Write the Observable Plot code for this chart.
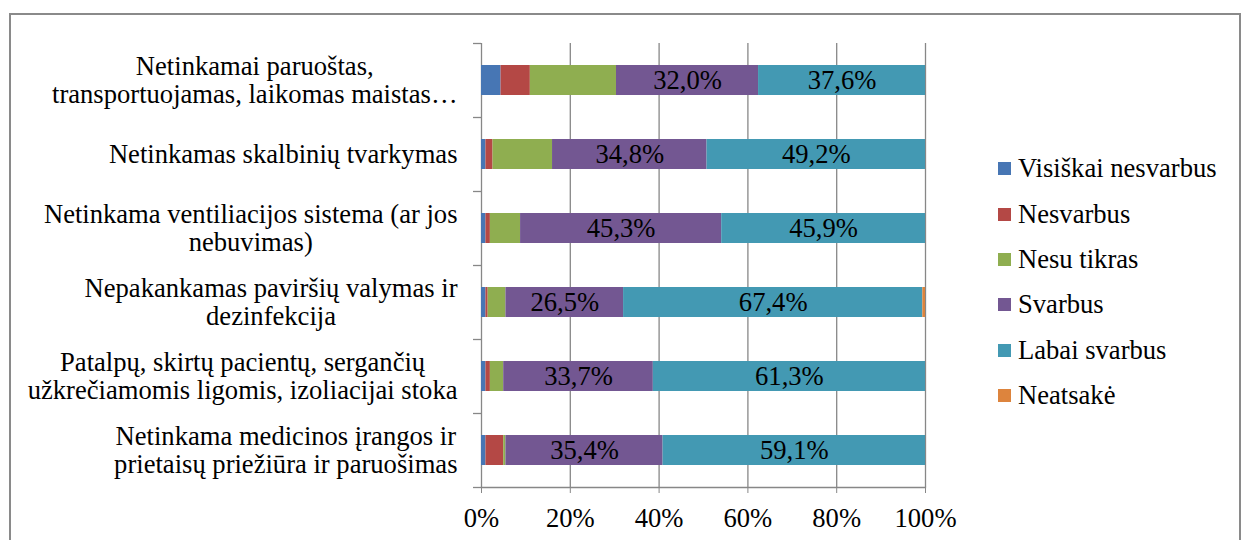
<!DOCTYPE html>
<html>
<head>
<meta charset="utf-8">
<script src="https://cdn.jsdelivr.net/npm/d3@7"></script>
<script src="https://cdn.jsdelivr.net/npm/@observablehq/plot@0.6"></script>
<style>
  html, body { margin: 0; padding: 0; background: #fff; overflow: hidden; }
  body { width: 1251px; height: 540px; position: relative; font-family: "Liberation Serif", "Times New Roman", serif; }
  #frame { position: absolute; left: 9px; top: 13px; width: 1232px; height: 600px; border: 2px solid #8a8a8a; box-sizing: border-box; }
  #chart { position: absolute; left: 0; top: 0; }
  #legend { position: absolute; left: 998px; top: 146px; font-size: 26.6px; color: #000; }
  #legend .item { display: flex; align-items: center; height: 45.4px; white-space: nowrap; }
  #legend .sw { width: 13px; height: 13px; margin-right: 7px; flex: none; }
</style>
</head>
<body>
<div id="frame"></div>
<div id="chart"></div>
<div id="legend"></div>
<script>
const categories = [
  "Netinkamai paruoštas,\ntransportuojamas, laikomas maistas…",
  "Netinkamas skalbinių tvarkymas",
  "Netinkama ventiliacijos sistema (ar jos\nnebuvimas)",
  "Nepakankamas paviršių valymas ir\ndezinfekcija",
  "Patalpų, skirtų pacientų, sergančių\nužkrečiamomis ligomis, izoliacijai stoka",
  "Netinkama medicinos įrangos ir\nprietaisų priežiūra ir paruošimas"
];
const series = ["Visiškai nesvarbus", "Nesvarbus", "Nesu tikras", "Svarbus", "Labai svarbus", "Neatsakė"];
const colors = ["#4776B4", "#B44845", "#8FAE50", "#735792", "#4399B3", "#DD843D"];
const visiskaiNesvarbus = [4.4, 1.0, 1.0, 1.0, 1.0, 1.0];
const nesvarbus       = [6.6, 1.6, 1.0, 0.5, 1.0, 4.0];
const nesuTikras      = [19.4, 13.4, 6.8, 4.0, 3.0, 0.5];
const svarbus         = [32.0, 34.8, 45.3, 26.5, 33.7, 35.4];
const labaiSvarbus    = [37.6, 49.2, 45.9, 67.4, 61.3, 59.1];
const neatsake        = [0, 0, 0, 0.6, 0, 0];
const labelledSeries = ["Svarbus", "Labai svarbus"];
const xTicks = [0, 20, 40, 60, 80, 100];

const seriesValues = [visiskaiNesvarbus, nesvarbus, nesuTikras, svarbus, labaiSvarbus, neatsake];
const data = [];
categories.forEach((c, i) => {
  series.forEach((s, j) => {
    data.push({category: c, series: s, value: seriesValues[j][i]});
  });
});

const fmt = v => v.toFixed(1).replace(".", ",") + "%";
const grid = "#878787";
const fs = 26.6;

const plot = Plot.plot({
  width: 1251,
  height: 540,
  marginLeft: 481,
  marginRight: 326,
  marginTop: 43,
  marginBottom: 53,
  style: {fontFamily: "'Liberation Serif', 'Times New Roman', serif", fontSize: fs + "px", color: "#000", background: "transparent"},
  x: {domain: [0, 100], label: null},
  y: {domain: categories, paddingInner: 0.595, paddingOuter: 0.2975, label: null},
  color: {domain: series, range: colors},
  marks: [
    Plot.ruleX(xTicks, {stroke: grid, strokeWidth: 1.3}),
    Plot.frame({anchor: "bottom", stroke: grid, strokeWidth: 1.3}),
    Plot.ruleY(categories, {y: d => d, x1: -1.8, x2: 0, dy: -37, stroke: grid, strokeWidth: 1.3}),
    Plot.ruleY(categories.slice(-1), {y: d => d, x1: -1.8, x2: 0, dy: 37, stroke: grid, strokeWidth: 1.3}),
    Plot.barX(data, Plot.stackX({x: "value", y: "category", fill: "series", order: null})),
    Plot.text(data, Plot.stackX({
      x: "value", y: "category", order: null,
      text: d => labelledSeries.includes(d.series) ? fmt(d.value) : null,
      fill: "#000", fontSize: fs
    })),
    Plot.axisX({ticks: xTicks, tickFormat: d => d + "%", tickSize: 6, tickPadding: 15, stroke: grid, fontSize: fs, label: null}),
    Plot.axisY({tickSize: 0, tickPadding: 24, fontSize: fs, lineHeight: 1.05, textAnchor: "end", label: null})
  ]
});

document.getElementById("chart").appendChild(plot);

// center the lines of each multi-line category label within its right-aligned block
const yLabels = plot.querySelectorAll('g[aria-label="y-axis tick label"] text');
yLabels.forEach(t => {
  const spans = Array.from(t.querySelectorAll("tspan"));
  if (spans.length > 1) {
    const widths = spans.map(s => s.getComputedTextLength());
    const w = Math.max(...widths);
    spans.forEach((s, k) => s.setAttribute("x", -(w - widths[k]) / 2));
  }
});

// legend
const legend = document.getElementById("legend");
series.forEach((s, i) => {
  const item = document.createElement("div");
  item.className = "item";
  const sw = document.createElement("span");
  sw.className = "sw";
  sw.style.background = colors[i];
  const label = document.createElement("span");
  label.textContent = s;
  item.appendChild(sw);
  item.appendChild(label);
  legend.appendChild(item);
});
</script>
</body>
</html>
